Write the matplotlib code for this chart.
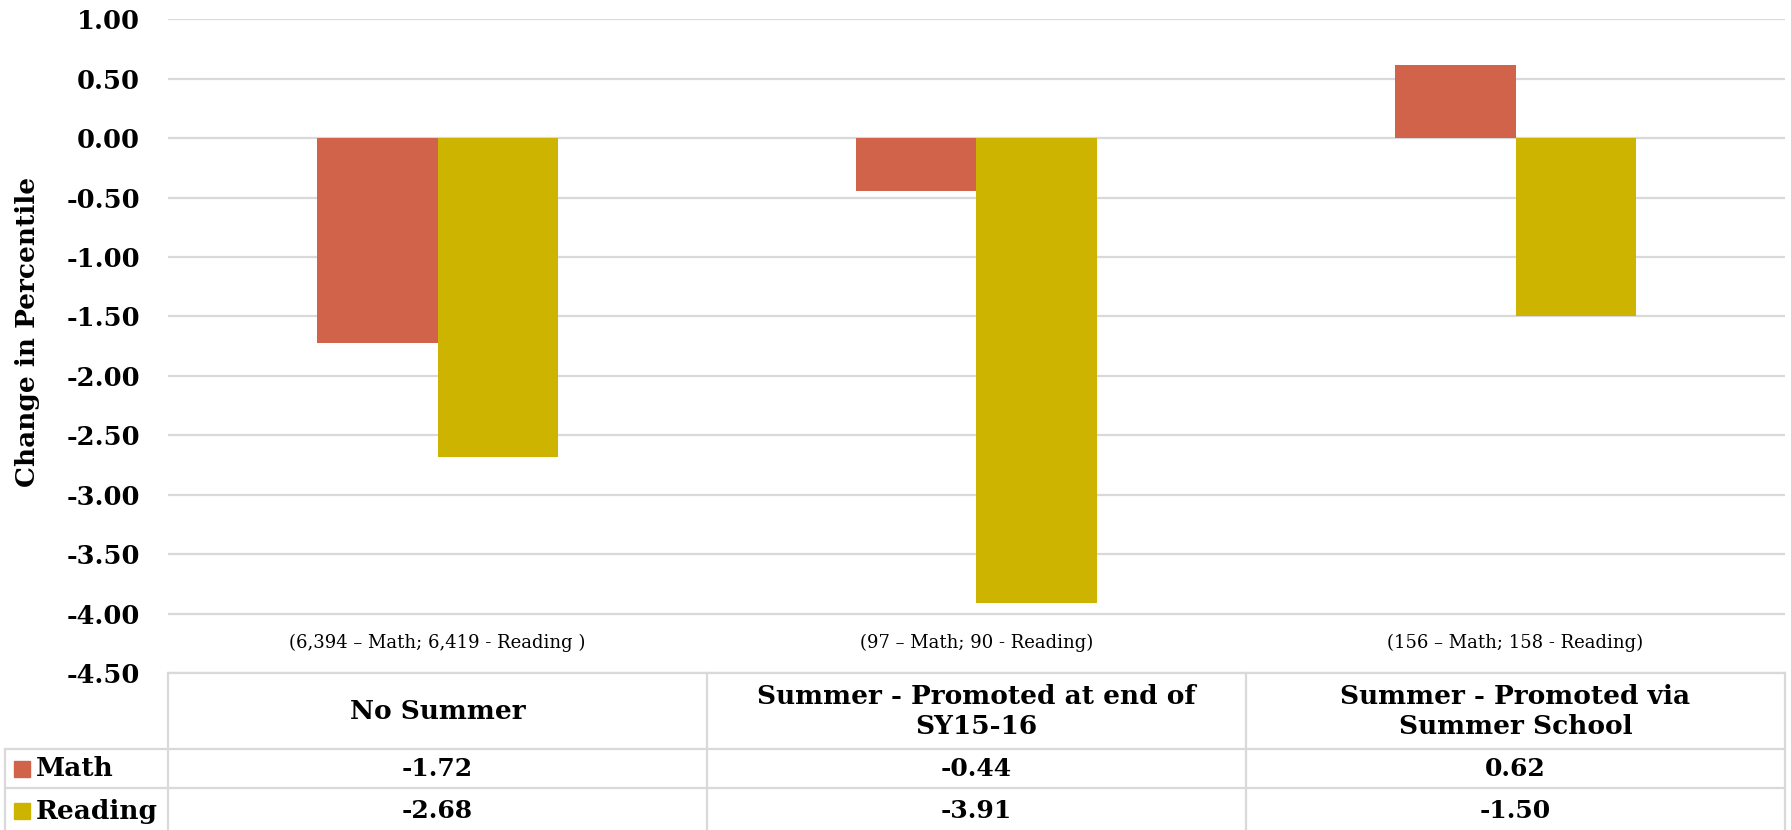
import matplotlib
matplotlib.use("Agg")
import matplotlib.pyplot as plt
from matplotlib.patches import Rectangle

# data
categories = ["No Summer", "Summer - Promoted at end of\nSY15-16", "Summer - Promoted via\nSummer School"]
counts = ["(6,394 – Math; 6,419 - Reading )", "(97 – Math; 90 - Reading)", "(156 – Math; 158 - Reading)"]
series = ["Math", "Reading"]
math = [-1.72, -0.44, 0.62]
reading = [-2.68, -3.91, -1.50]
colors = ["#D1634A", "#CCB400"]
yticks = [1.0, 0.5, 0.0, -0.5, -1.0, -1.5, -2.0, -2.5, -3.0, -3.5, -4.0, -4.5]

plt.rcParams['font.family'] = ['DejaVu Serif']
grid_c = "#D9D9D9"

W, H = 1791, 830
fig = plt.figure(figsize=(W / 100, H / 100), dpi=100)
left, right, top, bottom = 168, 1785, 19.4, 673
ax = fig.add_axes([left / W, (H - bottom) / H, (right - left) / W, (bottom - top) / H])
ax.set_xlim(-0.5, 2.5)
ax.set_ylim(-4.5, 1.0)

bw = 0.223
x = range(len(categories))
ax.bar([i - bw / 2 for i in x], math, bw, color=colors[0], zorder=3)
ax.bar([i + bw / 2 for i in x], reading, bw, color=colors[1], zorder=3)

ax.set_yticks(yticks)
ax.set_yticklabels(["%.2f" % v for v in yticks], fontsize=18.5, fontweight='bold')
ax.tick_params(axis='y', length=0, pad=20)
ax.set_xticks([])
ax.yaxis.grid(True, color=grid_c, linewidth=1.6, zorder=0)
for s in ax.spines.values():
    s.set_visible(False)
ax.set_ylabel("Change in Percentile", fontsize=19, fontweight='bold')
ax.yaxis.set_label_coords(-0.079, 0.522)

for i, c in enumerate(counts):
    ax.annotate(c, xy=(i, 0), xycoords=('data', 'axes fraction'), xytext=(0, 22),
                textcoords='offset points', ha='center', va='center', fontsize=13)

# data table under the chart
tax = fig.add_axes([left / W, 0, (right - left) / W, (H - bottom) / H])
tax.set_xlim(-0.5, 2.5)
tax.set_ylim(H - bottom, 0)
tax.axis('off')
unit = (right - left) / 3
xl = -0.5 - (left - 5) / unit
rows = [0, 76, 115, H - bottom]
lk = dict(color=grid_c, linewidth=1.6, clip_on=False)
tax.plot([-0.5, 2.5], [rows[0], rows[0]], **lk)
for r in rows[1:3]:
    tax.plot([xl, 2.5], [r, r], **lk)
for v in [-0.5, 0.5, 1.5, 2.5]:
    tax.plot([v, v], [rows[0], rows[3]], **lk)
tax.plot([xl, xl], [rows[1], rows[3]], **lk)

for i, c in enumerate(categories):
    tax.text(i, 38, c, ha='center', va='center', fontsize=19, fontweight='bold', linespacing=1.25)
    tax.text(i, (rows[1] + rows[2]) / 2, "%.2f" % math[i], ha='center', va='center',
             fontsize=18, fontweight='bold')
    tax.text(i, (rows[2] + rows[3]) / 2 + 2, "%.2f" % reading[i], ha='center', va='center',
             fontsize=18, fontweight='bold')

for k, (name, col) in enumerate(zip(series, colors)):
    yc = (rows[1 + k] + rows[2 + k]) / 2 + (2 if k else 0)
    tax.add_patch(Rectangle((-0.5 - (left - 14) / unit, yc - 8), 16 / unit, 16,
                            color=col, clip_on=False))
    tax.text(-0.5 - (left - 36) / unit, yc, name, ha='left', va='center',
             fontsize=19, fontweight='bold', clip_on=False)

fig.savefig("out.png", dpi=100)
